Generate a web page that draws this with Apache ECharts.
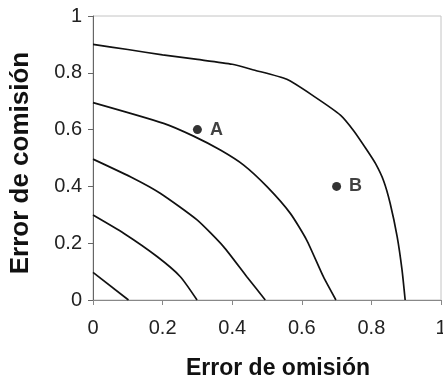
<!DOCTYPE html>
<html>
<head>
<meta charset="utf-8">
<script src="https://cdn.jsdelivr.net/npm/echarts@6/dist/echarts.min.js"></script>
<style>
  html, body { margin: 0; padding: 0; background: #fff; }
  #chart { width: 443px; height: 382px; }
</style>
</head>
<body>
<div id="chart"></div>
<script>
// isolines, [omision, comision]
var curve09 = [[0, 0.90], [0.10, 0.882], [0.20, 0.863], [0.30, 0.847], [0.40, 0.830], [0.462, 0.810],
    [0.557, 0.777], [0.634, 0.718], [0.711, 0.651], [0.749, 0.596], [0.787, 0.528], [0.812, 0.48],
    [0.835, 0.420], [0.854, 0.340], [0.874, 0.223], [0.888, 0.106], [0.897, 0]];
var curve07 = [[0, 0.695], [0.203, 0.622], [0.289, 0.577], [0.366, 0.528], [0.433, 0.475], [0.50, 0.399],
    [0.567, 0.305], [0.614, 0.211], [0.662, 0.082], [0.698, 0]];
var curve05 = [[0, 0.496], [0.117, 0.428], [0.193, 0.376], [0.299, 0.282], [0.375, 0.188], [0.442, 0.082], [0.495, 0]];
var curve03 = [[0, 0.299], [0.088, 0.235], [0.184, 0.153], [0.251, 0.082], [0.299, 0]];
var curve01 = [[0, 0.097], [0.102, 0]];
var puntos = [[0.3, 0.6, 'A'], [0.7, 0.4, 'B']];
var ticks = [0, 0.2, 0.4, 0.6, 0.8, 1];

var myChart = echarts.init(document.getElementById('chart'));

var curvas = [curve09, curve07, curve05, curve03, curve01];
var seriesArr = curvas.map(function (c) {
    return {
        type: 'line',
        data: c,
        symbol: 'none',
        smooth: 0.2,
        lineStyle: { color: '#111', width: 1.7 },
        silent: true,
        z: 2
    };
});
seriesArr.push({
    type: 'scatter',
    data: puntos,
    symbolSize: 9,
    itemStyle: { color: '#000' },
    label: {
        show: true,
        position: 'right',
        distance: 8,
        formatter: function (p) { return p.value[2]; },
        color: '#111',
        fontFamily: 'Liberation Sans',
        fontWeight: 'bold',
        fontSize: 18
    },
    z: 3
});

var tickFmt = function (v) {
    return ticks.indexOf(v) >= 0 ? String(v) : '';
};

myChart.setOption({
    animation: false,
    grid: {
        left: 93, right: 2, top: 16, bottom: 82,
        outerBoundsMode: 'none', containLabel: false,
        show: true, borderColor: '#c4c4c4', borderWidth: 1
    },
    xAxis: {
        type: 'value',
        min: 0, max: 1, interval: 0.2,
        name: 'Error de omisión',
        nameLocation: 'middle',
        nameGap: 57,
        nameTextStyle: { fontFamily: 'Liberation Sans', fontWeight: 'bold', fontSize: 23, color: '#111', padding: [0, 0, 0, 22] },
        axisLine: { show: true, lineStyle: { color: '#888', width: 1 } },
        axisTick: { show: true, length: 5, lineStyle: { color: '#888' } },
        axisLabel: { margin: 18, fontFamily: 'Liberation Sans', fontSize: 20, color: '#222', formatter: tickFmt },
        splitLine: { show: false }
    },
    yAxis: {
        type: 'value',
        min: 0, max: 1, interval: 0.2,
        name: 'Error de comisión',
        nameLocation: 'middle',
        nameGap: 59,
        nameRotate: 90,
        nameTextStyle: { fontFamily: 'Liberation Sans', fontWeight: 'bold', fontSize: 26, color: '#111', padding: [0, 10, 0, 0] },
        axisLine: { show: true, lineStyle: { color: '#666', width: 1 } },
        axisTick: { show: true, length: 5, lineStyle: { color: '#666' } },
        axisLabel: { margin: 11, fontFamily: 'Liberation Sans', fontSize: 20, color: '#222', formatter: tickFmt },
        splitLine: { show: false }
    },
    series: seriesArr
});
</script>
</body>
</html>
